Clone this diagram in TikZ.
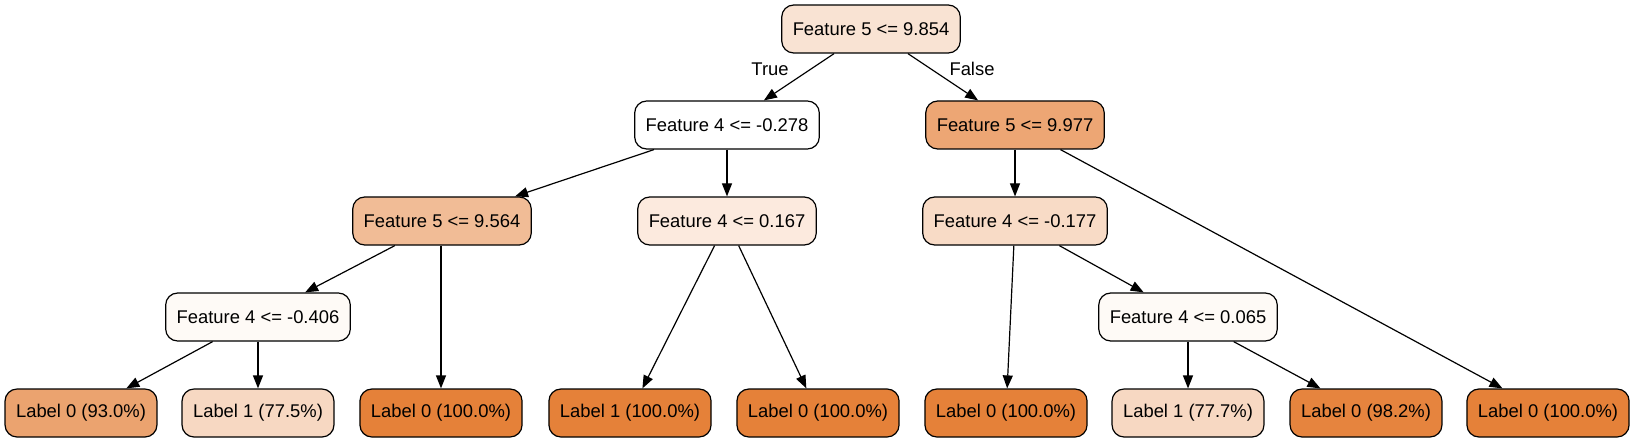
\documentclass[tikz,border=0pt]{standalone}
\usepackage{fontspec}
\setmainfont{Liberation Sans}
\usepackage{xcolor}
\usetikzlibrary{arrows.meta}

\definecolor{leafzero}{HTML}{E58139}
\definecolor{leafnine}{HTML}{E6843E}
\definecolor{leafninethree}{HTML}{EBA36F}
\definecolor{leafone}{HTML}{F7D8C2}
\definecolor{rootfill}{HTML}{F9E3D3}
\definecolor{splitA}{HTML}{EDA674}
\definecolor{splitB}{HTML}{F1BC96}
\definecolor{splitC}{HTML}{FCEADE}
\definecolor{splitD}{HTML}{F8DBC6}
\definecolor{splitE}{HTML}{FEFAF6}

\begin{document}
\begin{tikzpicture}[x=0.5pt, y=-0.5pt,
  tnode/.style={draw, line width=0.6pt, rounded corners=6pt, minimum height=24pt,
    inner xsep=5.5pt, font=\fontsize{9.2}{11}\selectfont},
  edge/.style={line width=0.6pt, -{Triangle[length=6.5pt, width=5pt]}},
  elabel/.style={font=\fontsize{9.2}{11}\selectfont}]
  \useasboundingbox (0,0) rectangle (1636,443);
  % split nodes
  \node[tnode, fill=rootfill] (root) at (871,29) {Feature 5 <= 9.854};
  \node[tnode, fill=white] (fa) at (727,125) {Feature 4 <= -0.278};
  \node[tnode, fill=splitA] (fb) at (1015,125) {Feature 5 <= 9.977};
  \node[tnode, fill=splitB] (fc) at (442,221) {Feature 5 <= 9.564};
  \node[tnode, fill=splitC] (fd) at (727,221) {Feature 4 <= 0.167};
  \node[tnode, fill=splitD] (fe) at (1015,221) {Feature 4 <= -0.177};
  \node[tnode, fill=splitE] (ff) at (258,317) {Feature 4 <= -0.406};
  \node[tnode, fill=splitE] (fg) at (1188,317) {Feature 4 <= 0.065};
  % leaves
  \node[tnode, fill=leafninethree] (l1) at (81,413) {Label 0 (93.0\%)};
  \node[tnode, fill=leafone] (l2) at (258,413) {Label 1 (77.5\%)};
  \node[tnode, fill=leafzero] (l3) at (441,413) {Label 0 (100.0\%)};
  \node[tnode, fill=leafzero] (l4) at (630,413) {Label 1 (100.0\%)};
  \node[tnode, fill=leafzero] (l5) at (818,413) {Label 0 (100.0\%)};
  \node[tnode, fill=leafzero] (l6) at (1006,413) {Label 0 (100.0\%)};
  \node[tnode, fill=leafone] (l7) at (1188,413) {Label 1 (77.7\%)};
  \node[tnode, fill=leafnine] (l8) at (1366,413) {Label 0 (98.2\%)};
  \node[tnode, fill=leafzero] (l9) at (1548,413) {Label 0 (100.0\%)};
  % edges
  \draw[edge] (root) -- (fa);
  \draw[edge] (root) -- (fb);
  \node[elabel] (ltrue) at (770,69) {True};
  \node[elabel] (lfalse) at (972,69) {False};
  \draw[edge] (fa) -- (fc);
  \draw[edge] (fa) -- (fd);
  \draw[edge] (fb) -- (fe);
  \draw[edge] (fb) -- (l9);
  \draw[edge] (fc) -- (ff);
  \draw[edge] (fc.south -| l3) -- (l3);
  \draw[edge] (fd) -- (l4);
  \draw[edge] (fd) -- (l5);
  \draw[edge] (fe) -- (l6);
  \draw[edge] (fe) -- (fg);
  \draw[edge] (ff) -- (l1);
  \draw[edge] (ff) -- (l2);
  \draw[edge] (fg) -- (l7);
  \draw[edge] (fg) -- (l8);
\end{tikzpicture}
\end{document}
